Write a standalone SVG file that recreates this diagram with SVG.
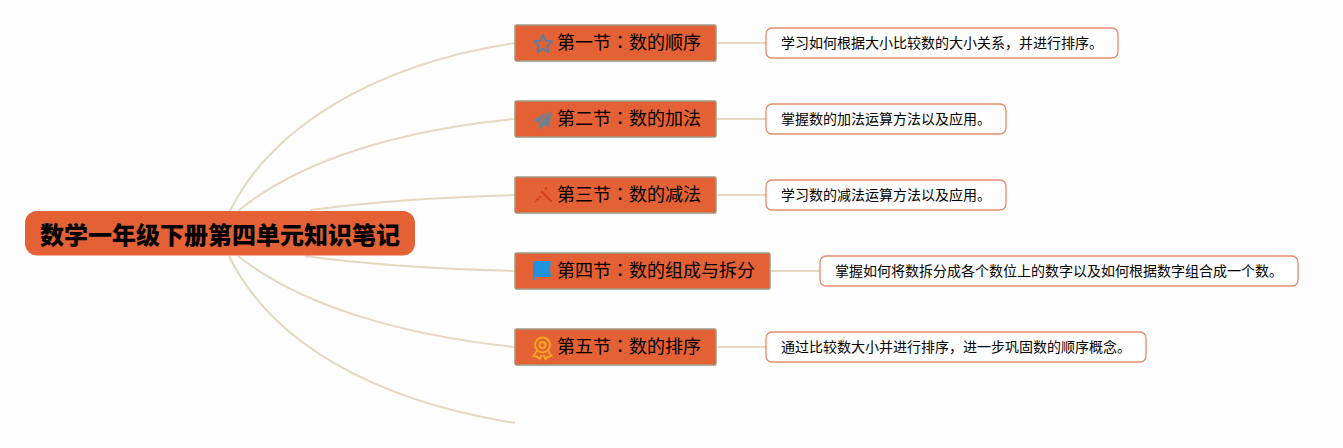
<svg xmlns="http://www.w3.org/2000/svg" width="1343" height="448" viewBox="0 0 1343 448">
<style>
text{font-family:"Noto Sans CJK SC","Liberation Sans",sans-serif;fill:#000}
.c{fill:none;stroke:#e4d8bf;stroke-width:2}
.s{fill:#e46035;stroke:#9c9a84;stroke-width:1.500}
.n{fill:#fefefe;stroke:#e58a6c;stroke-width:1.300}
.st{font-size:18px}
.co{font-family:"Noto Sans CJK TC",sans-serif}
.nt{font-size:14px}
</style>
<rect width="1343" height="448" fill="#fdfdfd"/>
<g id="connectors">
<path class="c" d="M230 211C270 130 370 65 515 43"/>
<path class="c" d="M238 211C300 160 400 130 515 119"/>
<path class="c" d="M310 210C370 202 440 197 515 195"/>
<path class="c" d="M305 256C370 265 440 269 515 271"/>
<path class="c" d="M238 256C300 305 400 335 515 347"/>
<path class="c" d="M229 256C270 340 370 400 515 423"/>
<path class="c" d="M717 43H766M717 119H766M717 195H766M771 271H820M717 347H766"/>
</g>
<g id="root">
<rect x="25" y="211" width="390" height="44.500" rx="12" fill="#e46035"/>
<text x="220" y="244" text-anchor="middle" font-size="24" font-weight="900">数学一年级下册第四单元知识笔记</text>
</g>
<g id="s1">
<rect class="s" x="515" y="25" width="201" height="36" rx="1.500"/>
<path d="M543 35l2.700 5.600 6.200.9-4.500 4.300 1.100 6.100-5.500-2.900-5.500 2.900 1.100-6.100-4.500-4.300 6.200-.9z" fill="none" stroke="#5d7f9e" stroke-width="2" stroke-linejoin="round"/>
<text class="st" x="557" y="49">第一节<tspan class="co">：</tspan>数的顺序</text>
</g>
<g id="s2">
<rect class="s" x="515" y="101" width="201" height="36" rx="1.500"/>
<path d="M552 110l-19 10 6 3 2 7 3-5 5 2z" fill="#6a8296"/><path d="M552 110l-12 12" stroke="#e46035" stroke-width="1.200"/>
<text class="st" x="557" y="125">第二节<tspan class="co">：</tspan>数的加法</text>
</g>
<g id="s3">
<rect class="s" x="515" y="177" width="201" height="36" rx="1.500"/>
<path d="M542 192l9 9" stroke="#d83a20" stroke-width="2.200" stroke-linecap="round"/><path d="M541 196l-6 6" stroke="#d83a20" stroke-width="2.200" stroke-dasharray="2.500 1.200"/><circle cx="546" cy="188.500" r="1.300" fill="#d83a20"/>
<text class="st" x="557" y="201">第三节<tspan class="co">：</tspan>数的减法</text>
</g>
<g id="s4">
<rect class="s" x="515" y="253" width="255" height="36" rx="1.500"/>
<path d="M533 261h18l-1 8 1 8h-16v3h-2z" fill="#1f94dc"/>
<text class="st" x="557" y="277">第四节<tspan class="co">：</tspan>数的组成与拆分</text>
</g>
<g id="s5">
<rect class="s" x="515" y="329" width="201" height="36" rx="1.500"/>
<g fill="none" stroke="#f5a623" stroke-width="2"><circle cx="542.500" cy="345" r="7.500"/><circle cx="542.500" cy="345" r="3"/><path d="M537 351l-3.500 5 4 1 2 2 2-4M548 351l3.500 5-4 1-2 2-2-4"/></g>
<text class="st" x="557" y="353">第五节<tspan class="co">：</tspan>数的排序</text>
</g>
<g id="d1"><rect class="n" x="766" y="28" width="352" height="30" rx="6"/><text class="nt" x="781" y="48">学习如何根据大小比较数的大小关系，并进行排序。</text></g>
<g id="d2"><rect class="n" x="766" y="104" width="240" height="30" rx="6"/><text class="nt" x="781" y="124">掌握数的加法运算方法以及应用。</text></g>
<g id="d3"><rect class="n" x="766" y="180" width="240" height="30" rx="6"/><text class="nt" x="781" y="200">学习数的减法运算方法以及应用。</text></g>
<g id="d4"><rect class="n" x="820" y="256" width="478" height="30" rx="6"/><text class="nt" x="835" y="276">掌握如何将数拆分成各个数位上的数字以及如何根据数字组合成一个数。</text></g>
<g id="d5"><rect class="n" x="766" y="332" width="380" height="30" rx="6"/><text class="nt" x="781" y="352">通过比较数大小并进行排序，进一步巩固数的顺序概念。</text></g>
</svg>
